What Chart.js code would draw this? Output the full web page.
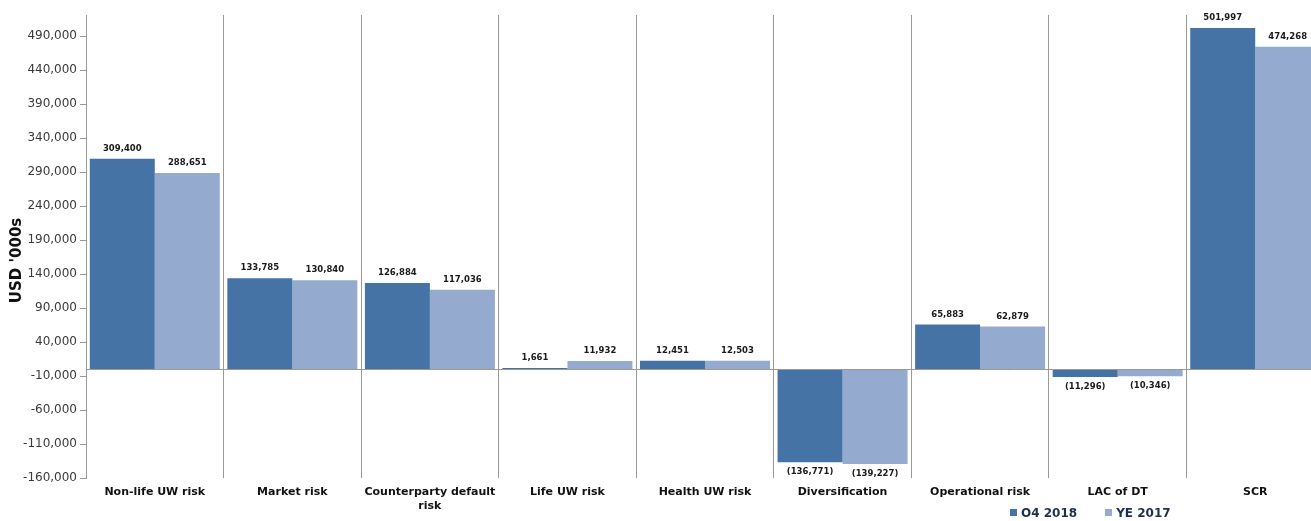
<!DOCTYPE html>
<html lang="en">
<head>
  <meta charset="UTF-8">
  <title>SCR breakdown</title>
  <script src="https://cdn.jsdelivr.net/npm/chart.js"></script>
  <style>
    html, body { margin: 0; padding: 0; background: #fff; overflow: hidden; }
    #wrap { position: relative; width: 1324px; height: 521px; }
    #legend { position: absolute; left: 1010px; top: 506px; font: bold 12px "DejaVu Sans", Verdana, sans-serif; color: #1f2f4f; white-space: nowrap; }
    #legend span.box { display: inline-block; width: 7px; height: 7px; margin-right: 4px; vertical-align: 1px; }
    #legend span.item { margin-right: 28px; }
  </style>
</head>
<body>
  <div id="wrap">
    <canvas id="scrChart"></canvas>
    <div id="legend"></div>
  </div>
  <script>
    // chart data
    const categories = ['Non-life UW risk', 'Market risk', ['Counterparty default', 'risk'], 'Life UW risk',
      'Health UW risk', 'Diversification', 'Operational risk', 'LAC of DT', 'SCR'];
    const q42018 = [309400, 133785, 126884, 1661, 12451, -136771, 65883, -11296, 501997];
    const ye2017 = [288651, 130840, 117036, 11932, 12503, -139227, 62879, -10346, 474268];
    const seriesNames = ['O4 2018', 'YE 2017'];
    const yTicks = [-160000, -110000, -60000, -10000, 40000, 90000, 140000, 190000, 240000, 290000, 340000, 390000, 440000, 490000];
    const yTitle = "USD '000s";

    const colors = ['#4673a6', '#94aacf'];
    const fmt = v => Math.abs(v).toLocaleString('en-US');

    // horizontal line at zero, like the category axis crossing
    const zeroLine = {
      id: 'zeroLine',
      afterDatasetsDraw(chart) {
        const c = chart.ctx, a = chart.chartArea;
        const y = Math.round(chart.scales.y.getPixelForValue(0)) + 0.5;
        c.save();
        c.strokeStyle = '#999';
        c.lineWidth = 1;
        c.beginPath();
        c.moveTo(a.left, y);
        c.lineTo(a.right, y);
        c.stroke();
        c.restore();
      }
    };

    // value labels on bars, negatives in brackets
    const barLabels = {
      id: 'barLabels',
      afterDatasetsDraw(chart) {
        const c = chart.ctx;
        c.save();
        c.font = 'bold 8.5px "DejaVu Sans", Verdana, sans-serif';
        c.fillStyle = '#1a1a1a';
        c.textAlign = 'center';
        c.textBaseline = 'middle';
        chart.data.datasets.forEach((ds, i) => {
          chart.getDatasetMeta(i).data.forEach((bar, j) => {
            const v = ds.data[j];
            const txt = v < 0 ? '(' + fmt(v) + ')' : fmt(v);
            c.fillText(txt, bar.x, v < 0 ? bar.y + 10 : bar.y - 10);
          });
        });
        c.restore();
      }
    };

    // y axis title, sits a bit below the middle of the axis in the original
    const yAxisTitle = {
      id: 'yAxisTitle',
      afterDraw(chart) {
        const c = chart.ctx, a = chart.chartArea;
        c.save();
        c.translate(17, (a.top + a.bottom) / 2 + 14);
        c.rotate(-Math.PI / 2);
        c.font = 'bold 15px "DejaVu Sans", Verdana, sans-serif';
        c.fillStyle = '#111';
        c.textAlign = 'center';
        c.textBaseline = 'middle';
        c.fillText(yTitle, 0, 0);
        c.restore();
      }
    };

    new Chart(document.getElementById('scrChart'), {
      type: 'bar',
      data: {
        labels: categories,
        datasets: [
          { label: seriesNames[0], data: q42018, backgroundColor: colors[0] },
          { label: seriesNames[1], data: ye2017, backgroundColor: colors[1] }
        ]
      },
      options: {
        responsive: true,
        maintainAspectRatio: false,
        animation: false,
        categoryPercentage: 0.945,
        barPercentage: 1.0,
        layout: { padding: { top: 15, left: 0, right: 0, bottom: 0 } },
        plugins: { legend: { display: false }, tooltip: { enabled: false } },
        scales: {
          x: {
            grid: { offset: true, color: '#999', drawTicks: false },
            border: { display: false },
            ticks: {
              padding: 8,
              color: '#111',
              font: { family: '"DejaVu Sans", Verdana, sans-serif', size: 11, weight: 'bold' },
              maxRotation: 0,
              autoSkip: false
            },
            afterFit: s => { s.height = 43; }
          },
          y: {
            min: -160000,
            max: 521000,
            afterBuildTicks: s => { s.ticks = yTicks.map(v => ({ value: v })); },
            grid: { drawOnChartArea: false, drawTicks: true, tickLength: 6, tickColor: '#999' },
            border: { color: '#999' },
            ticks: {
              padding: 3,
              color: '#3a3a3a',
              font: { family: '"DejaVu Sans", Verdana, sans-serif', size: 12 },
              callback: v => v.toLocaleString('en-US')
            },
            afterFit: s => { s.width = 86; }
          }
        }
      },
      plugins: [zeroLine, barLabels, yAxisTitle]
    });

    document.getElementById('legend').innerHTML = seriesNames.map((n, i) =>
      `<span class="item"><span class="box" style="background:${colors[i]}"></span>${n}</span>`).join('');
  </script>
</body>
</html>
